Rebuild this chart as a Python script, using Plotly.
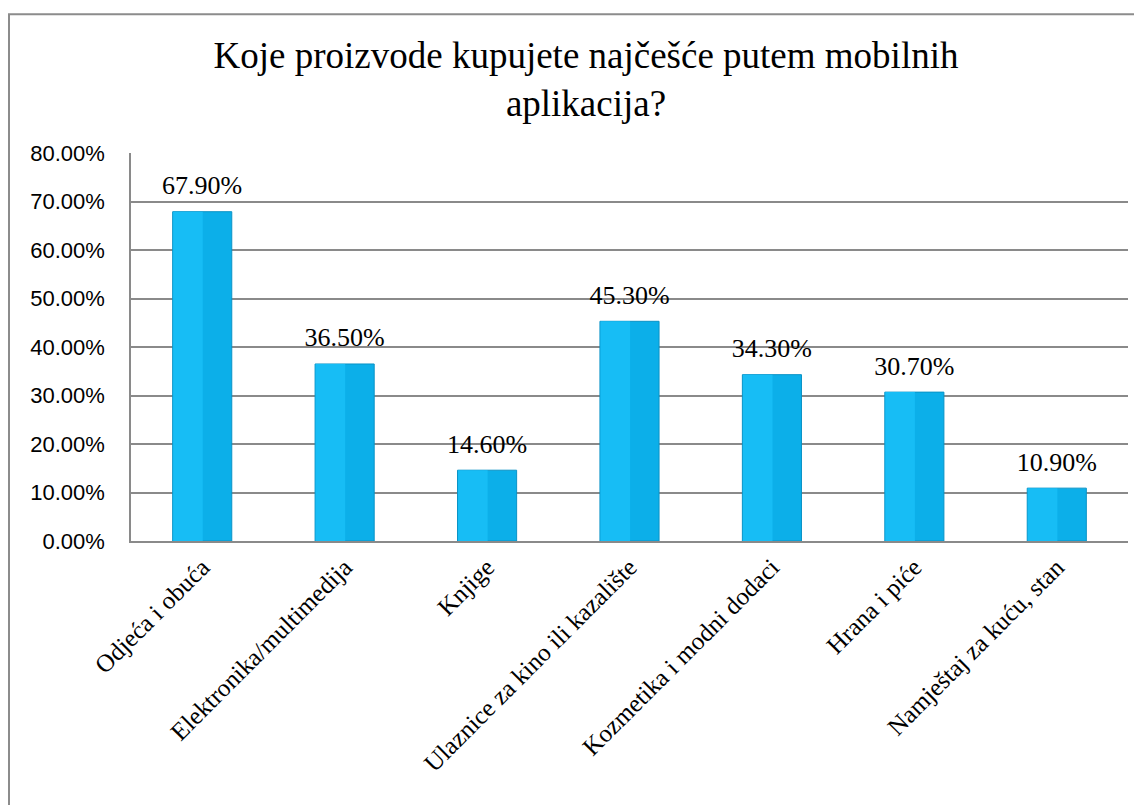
import plotly.graph_objects as go

categories = ["Odjeća i obuća", "Elektronika/multimedija", "Knjige",
              "Ulaznice za kino ili kazalište", "Kozmetika i modni dodaci",
              "Hrana i piće", "Namještaj za kuću, stan"]
values = [0.679, 0.365, 0.146, 0.453, 0.343, 0.307, 0.109]
labels = ["67.90%", "36.50%", "14.60%", "45.30%", "34.30%", "30.70%", "10.90%"]
ytickvals = [0, 0.1, 0.2, 0.3, 0.4, 0.5, 0.6, 0.7, 0.8]
yticktext = ["0.00%", "10.00%", "20.00%", "30.00%", "40.00%", "50.00%", "60.00%", "70.00%", "80.00%"]
title = "Koje proizvode kupujete najčešće putem mobilnih<br>aplikacija?"

SERIF = "Liberation Serif, Times New Roman, serif"
SANS = "Liberation Sans, Arial, sans-serif"
BW = 0.415

fig = go.Figure()
fig.add_trace(go.Bar(
    x=categories, y=values, width=BW,
    marker=dict(color="#0CAFE9", line=dict(color="#0A93C6", width=1)),
    hoverinfo="x+y",
))
fig.add_trace(go.Bar(
    x=categories, y=values, width=BW * 0.5, offset=-BW / 2 + 0.004,
    marker=dict(color="#17BDF5", line=dict(width=0)),
    hoverinfo="skip",
))
# data labels, lifted a little above the bar tops
fig.add_trace(go.Scatter(
    x=categories, y=values, mode="markers+text",
    marker=dict(size=16, opacity=0),
    text=labels, textposition="top center", cliponaxis=False,
    textfont=dict(family=SERIF, size=26, color="#000000"),
    hoverinfo="skip",
))

# figure is offset by the page's 8px body margin
fig.update_layout(
    width=1134, height=797,
    barmode="overlay",
    showlegend=False,
    paper_bgcolor="#FFFFFF", plot_bgcolor="#FFFFFF",
    margin=dict(l=123, r=14, t=145, b=264, autoexpand=False),
    title=dict(
        text=title, xref="container", yref="container",
        x=(586 - 8) / 1134, xanchor="center", y=1 - 60 / 797, yanchor="top",
        font=dict(family=SERIF, size=37, color="#000000"),
    ),
    font=dict(family=SANS, color="#000000"),
    shapes=[dict(type="rect", xref="paper", yref="paper",
                 x0=(1 - 123) / 997, x1=1.2, y0=-1.0, y1=(533 - 6.3) / 388,
                 line=dict(color="#8C8C8C", width=2), fillcolor="rgba(0,0,0,0)",
                 layer="below")],
)
fig.update_yaxes(
    range=[0, 0.8], tickvals=ytickvals, ticktext=yticktext,
    showgrid=True, gridcolor="#8A8A8A", gridwidth=1.5,
    showline=True, linecolor="#8A8A8A", linewidth=1.5,
    ticks="", ticklabelstandoff=20, automargin=False,
    tickfont=dict(family=SANS, size=22, color="#000000"),
    zeroline=False,
)
fig.update_xaxes(
    tickangle=-45, showline=True, linecolor="#8A8A8A", linewidth=1.5,
    ticks="", showgrid=False, automargin=False,
    tickfont=dict(family=SERIF, size=25, color="#000000"),
)

fig.write_html("out.html")
